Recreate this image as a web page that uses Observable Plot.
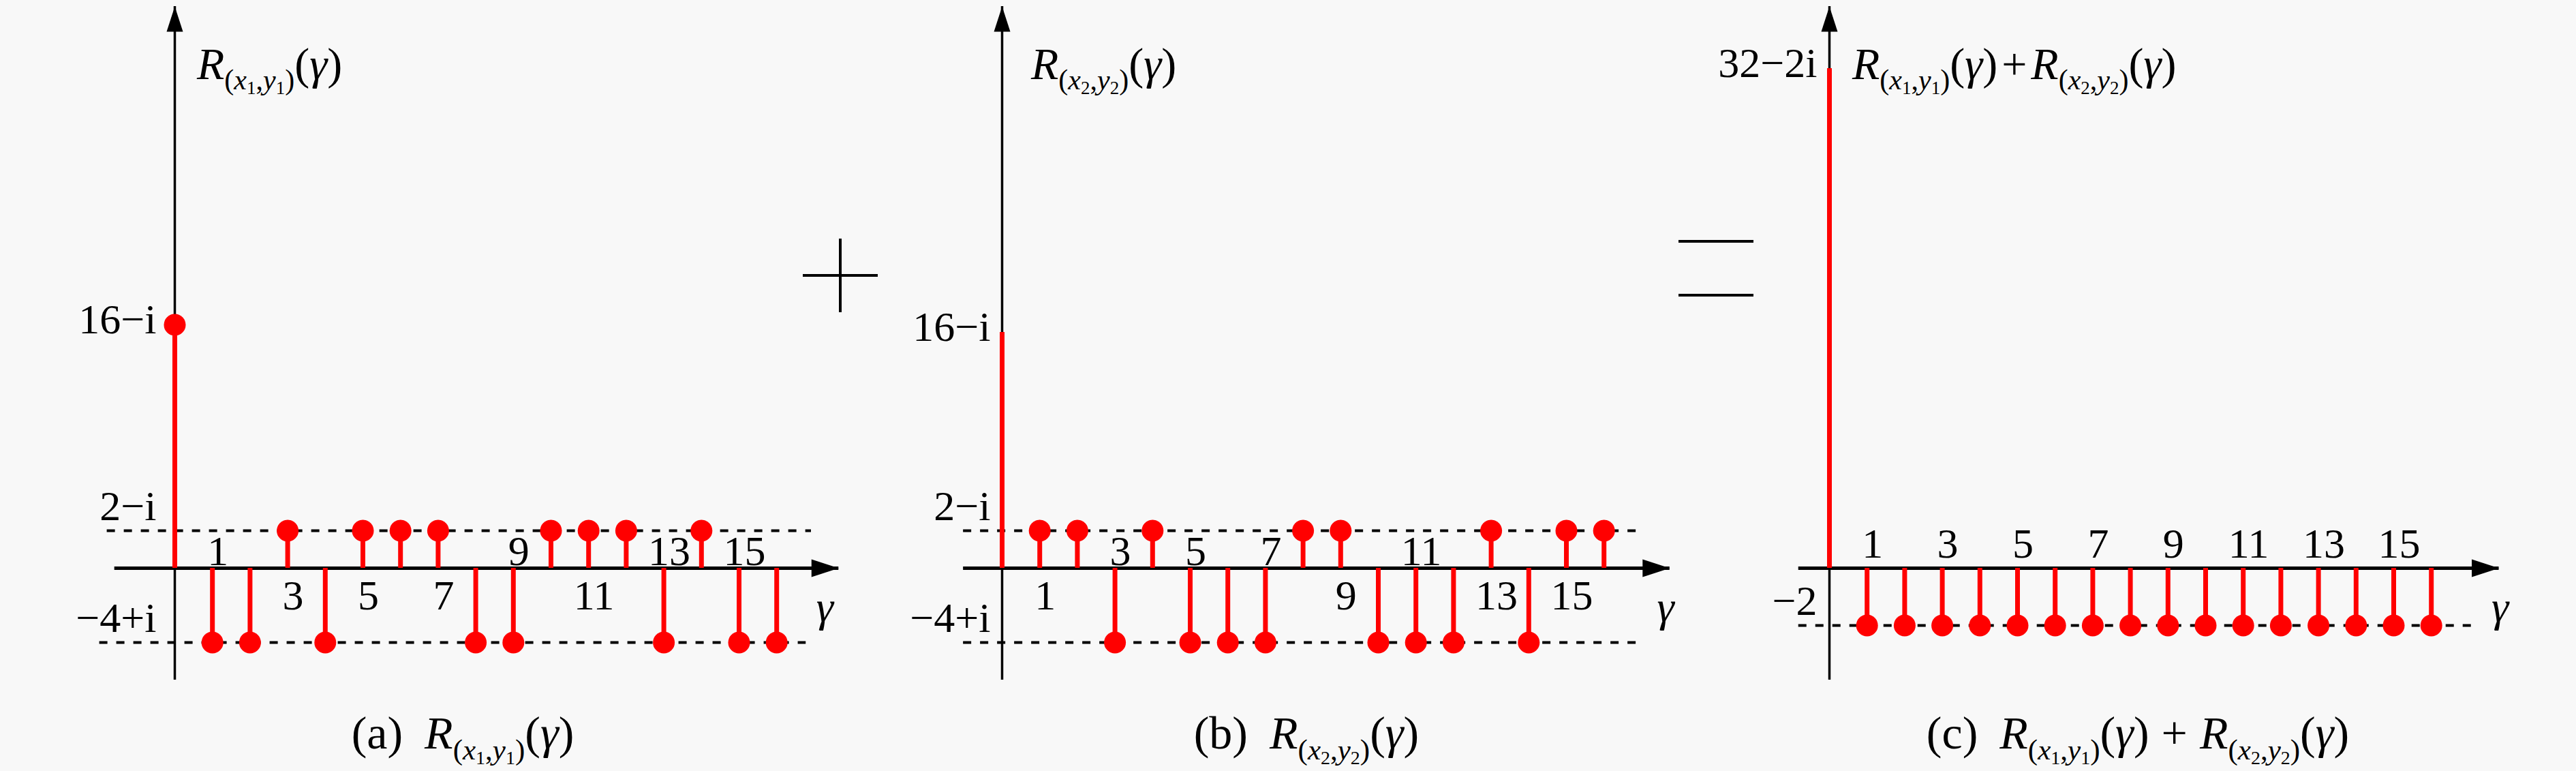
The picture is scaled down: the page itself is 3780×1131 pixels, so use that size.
<!DOCTYPE html>
<html><head><meta charset="utf-8">
<script src="https://cdn.jsdelivr.net/npm/d3@7"></script>
<script src="https://cdn.jsdelivr.net/npm/@observablehq/plot@0.6"></script>
<style>
html,body{margin:0;padding:0;background:#f8f8f8;}
#root{position:relative;width:3780px;height:1131px;overflow:hidden;font-family:"Liberation Serif","Tinos","Times New Roman","DejaVu Serif",serif;color:#000;}
.panel{position:absolute;top:0;}
.lab{position:absolute;white-space:nowrap;font-size:66px;line-height:66px;}
.lab i{font-style:italic;}
.s1{font-size:42px;position:relative;top:15px;}
.s2{font-size:27px;position:relative;top:7px;}
.cap{font-size:68px;line-height:68px;}
.cap .s1{font-size:43px;top:16px;}
.cap .s2{font-size:28px;top:7px;}
.tag{margin-right:32px;}
.plusT{margin:0 6px;}
.plusC{margin:0 18px;}
.op{position:absolute;background:#000;}
</style></head><body><div id="root"></div>
<script>
// ---- data (real parts of the autocorrelation values) ----
const gamma   = [0, 1, 2, 3, 4, 5, 6, 7, 8, 9, 10, 11, 12, 13, 14, 15, 16];
const valuesA = [16, -4, -4, 2, -4, 2, 2, 2, -4, -4, 2, 2, 2, -4, 2, -4, -4];
const valuesB = [16, 2, 2, -4, 2, -4, -4, -4, 2, 2, -4, -4, -4, 2, -4, 2, 2];
const valuesC = [32, -2, -2, -2, -2, -2, -2, -2, -2, -2, -2, -2, -2, -2, -2, -2, -2];
const xTicks  = [1, 3, 5, 7, 9, 11, 13, 15];
const yTicksA = [16, 2, -4];
const yLabelsA = ["16\u2212i", "2\u2212i", "\u22124+i"];
const yTicksB = [16, 2, -4];
const yLabelsB = ["16\u2212i", "2\u2212i", "\u22124+i"];
const yTicksC = [32, -2];
const yLabelsC = ["32\u22122i", "\u22122"];
const levelsA = [2, -4];
const levelsB = [2, -4];
const levelsC = [-2];

// ---- layout ----
const STEP = 55.2, X0 = 256, H = 1030;
const FONT = "'Liberation Serif', Tinos, 'Times New Roman', 'DejaVu Serif', serif";
const panels = [
  {left: 0, width: 1214, values: valuesA, yTicks: yTicksA, yLabels: yLabelsA, levels: levelsA,
   dashExt: [[-1.8, 16.92], [-2.0, 16.78]], peakDot: true,
   yDomain: [-6, -4, 0, 2, 16, 40], yRange: [997, 942, 833, 778, 476, 9],
   axisX: [-1.6, 17.65], gammaX: 17.28, tickAbove: -24, yLabelDx: -27},
  {left: 1214, width: 1214, values: valuesB, yTicks: yTicksB, yLabels: yLabelsB, levels: levelsB,
   dashExt: [[-1.03, 16.87], [-1.03, 16.87]], peakDot: false,
   yDomain: [-6, -4, 0, 2, 16, 40], yRange: [997, 942, 833, 778, 487, 9],
   axisX: [-1.03, 17.75], gammaX: 17.64, tickAbove: -24, yLabelDx: -17},
  {left: 2428, width: 1352, values: valuesC, yTicks: yTicksC, yLabels: yLabelsC, levels: levelsC,
   dashExt: [[-0.82, 17.1]], peakDot: false,
   yDomain: [-3, -2, 0, 32, 40], yRange: [997, 917, 833, 100, 9],
   axisX: [-0.82, 17.8], gammaX: 17.83, tickAbove: -35, yLabelDx: -18}
];

const arrowRight = {draw(ctx) { ctx.moveTo(0, 0); ctx.lineTo(-40, -13); ctx.lineTo(-40, 13); ctx.closePath(); }};
const arrowUp = {draw(ctx) { ctx.moveTo(0, 0); ctx.lineTo(-12, 37); ctx.lineTo(12, 37); ctx.closePath(); }};

const root = document.getElementById("root");

panels.forEach(P => {
  const data = gamma.map((g, i) => ({g, v: P.values[i]}));
  const valueAt = g => P.values[gamma.indexOf(g)];
  const yTop = P.yDomain[P.yDomain.length - 1];
  const yBot = P.yDomain[0];
  const peak = Math.max(...P.yTicks);
  const ticks = P.yTicks.map((v, i) => ({v, label: P.yLabels[i]}));
  const dashes = P.levels.map((v, i) => ({v, x1: P.dashExt[i][0], x2: P.dashExt[i][1]}));
  const svg = Plot.plot({
    width: P.width, height: H, margin: 0,
    style: {background: "transparent", maxWidth: "none", overflow: "visible", fontFamily: FONT, color: "black"},
    x: {type: "linear", domain: [0, 16], range: [X0, X0 + 16 * STEP], axis: null},
    y: {type: "linear", domain: P.yDomain, range: P.yRange, axis: null},
    marks: [
      Plot.ruleY(dashes, {y: "v", x1: "x1", x2: "x2", stroke: "black", strokeWidth: 4, strokeDasharray: "12,13"}),
      Plot.ruleY([0], {y: d => d, x1: () => P.axisX[0], x2: () => P.axisX[1], stroke: "black", strokeWidth: 5}),
      Plot.dot([0], {x: () => P.axisX[1], y: () => 0, symbol: arrowRight, r: 5, fill: "black", stroke: "none"}),
      Plot.ruleX([0], {x: d => d, y1: () => yBot, y2: () => yTop, stroke: "black", strokeWidth: 3.5}),
      Plot.dot([0], {x: () => 0, y: () => yTop, symbol: arrowUp, r: 5, fill: "black", stroke: "none"}),
      Plot.ruleX(data, {x: "g", y1: () => 0, y2: "v", stroke: "#ff0000", strokeWidth: 7}),
      Plot.dot(P.peakDot ? data : data.filter(d => d.g > 0), {x: "g", y: "v", r: 16, fill: "#ff0000", stroke: "none"}),
      Plot.text(ticks.filter(d => d.v === peak), {x: () => 0, y: "v", text: "label", textAnchor: "end", dx: P.yLabelDx, dy: -7, fontSize: 62, fontFamily: FONT, fill: "black"}),
      Plot.text(ticks.filter(d => d.v !== peak), {x: () => 0, y: "v", text: "label", textAnchor: "end", dx: P.yLabelDx, dy: -35, fontSize: 62, fontFamily: FONT, fill: "black"}),
      Plot.text(xTicks.filter(g => valueAt(g) < 0), {x: d => d, y: () => 0, text: d => String(d), dx: 8, dy: P.tickAbove, fontSize: 62, fontFamily: FONT, fill: "black"}),
      Plot.text(xTicks.filter(g => valueAt(g) >= 0), {x: d => d, y: () => 0, text: d => String(d), dx: 8, dy: 41, fontSize: 62, fontFamily: FONT, fill: "black"}),
      Plot.text(["\u03b3"], {x: () => P.gammaX, y: () => 0, text: d => d, dy: 57, fontSize: 64, fontStyle: "italic", fontFamily: FONT, fill: "black"})
    ]
  });
  const wrap = document.createElement("div");
  wrap.className = "panel";
  wrap.style.left = P.left + "px";
  wrap.appendChild(svg);
  root.appendChild(wrap);
});

// ---- math labels (axis titles and captions) ----
const R1 = '<i>R</i><span class="s1">(<i>x</i><span class="s2">1</span>,<i>y</i><span class="s2">1</span>)</span>(<i>\u03b3</i>)';
const R2 = '<i>R</i><span class="s1">(<i>x</i><span class="s2">2</span>,<i>y</i><span class="s2">2</span>)</span>(<i>\u03b3</i>)';
const labels = [
  {html: R1, left: 289, top: 61},
  {html: R2, left: 1513, top: 61},
  {html: R1 + '<span class="plusT">+</span>' + R2, left: 2718, top: 61},
  {html: '<span class="tag">(a)</span>' + R1, center: 679, top: 1041, cls: "cap"},
  {html: '<span class="tag">(b)</span>' + R2, center: 1917, top: 1041, cls: "cap"},
  {html: '<span class="tag">(c)</span>' + R1 + '<span class="plusC">+</span>' + R2, center: 3137, top: 1041, cls: "cap"}
];
labels.forEach(L => {
  const d = document.createElement("div");
  d.className = "lab" + (L.cls ? " " + L.cls : "");
  d.innerHTML = L.html;
  d.style.top = L.top + "px";
  if (L.center !== undefined) { d.style.left = L.center + "px"; d.style.transform = "translateX(-50%)"; }
  else d.style.left = L.left + "px";
  root.appendChild(d);
});

// ---- operators between the panels ----
[[1178, 402, 110, 4], [1231, 350, 4, 108], [2463, 352, 110, 4], [2463, 431, 110, 4]].forEach(([l, t, w, h]) => {
  const d = document.createElement("div");
  d.className = "op";
  Object.assign(d.style, {left: l + "px", top: t + "px", width: w + "px", height: h + "px"});
  root.appendChild(d);
});
</script></body></html>
